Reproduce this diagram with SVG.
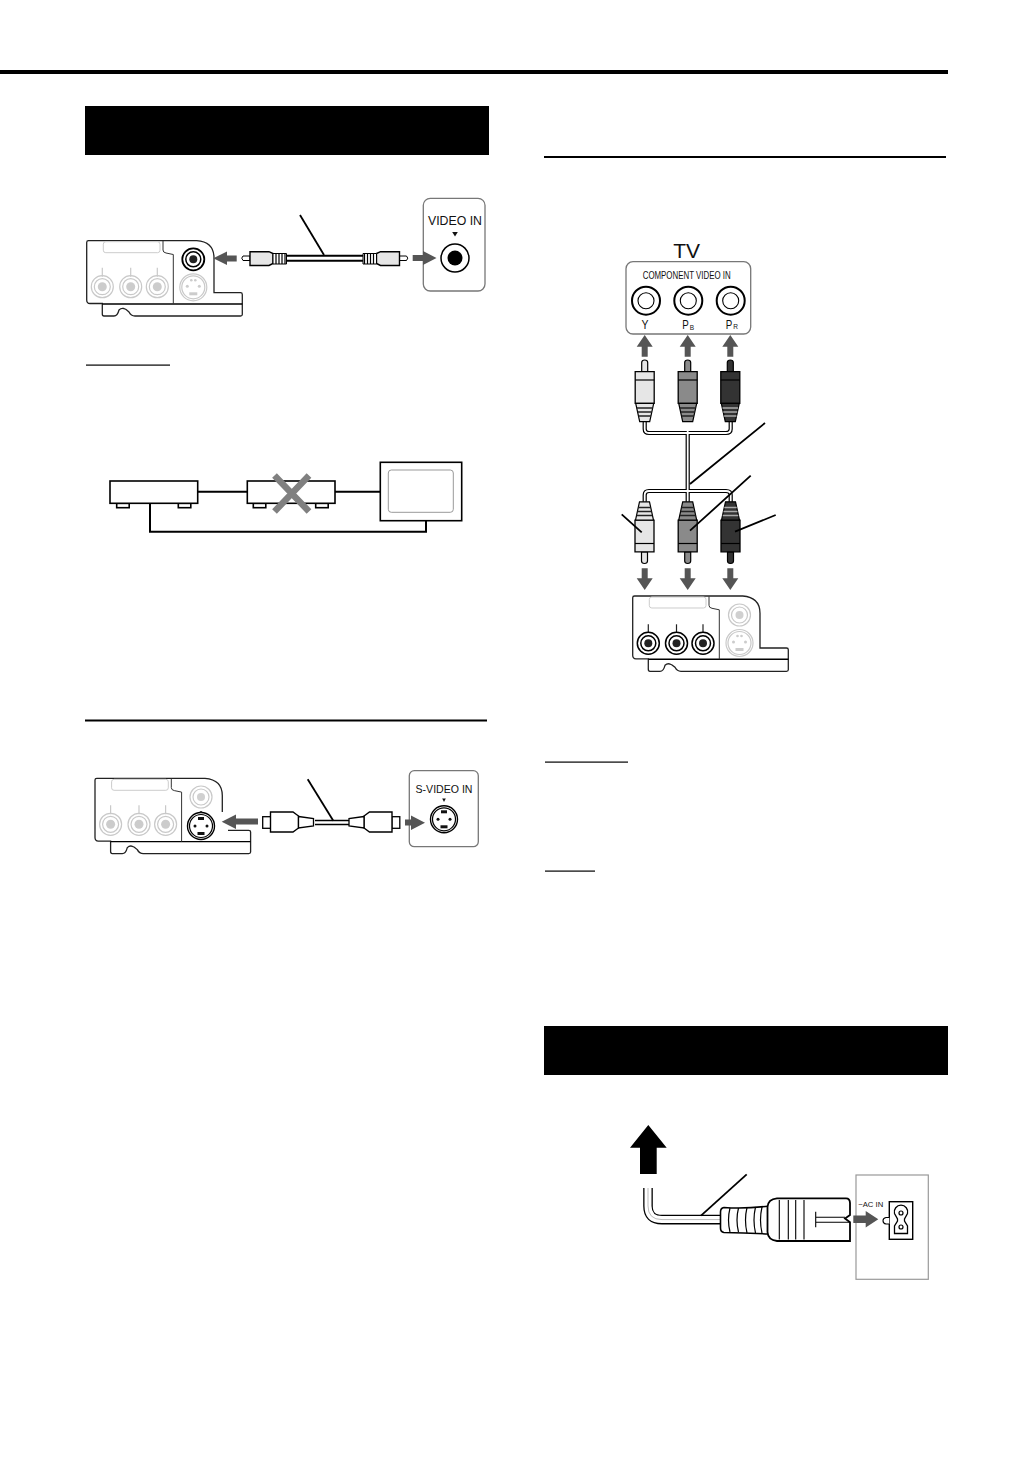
<svg xmlns="http://www.w3.org/2000/svg" xmlns:xlink="http://www.w3.org/1999/xlink" width="1031" height="1457" viewBox="0 0 1031 1457">
<style>
text{font-family:"Liberation Sans",Arial,sans-serif;fill:#111}
.ln{fill:none;stroke:#000;stroke-width:1.4}
.lead{fill:none;stroke:#000;stroke-width:1.8}
.wire{fill:none;stroke:#000;stroke-width:2}
.arr{fill:#555;stroke:none}
.gr{fill:none;stroke:#c9c9c9;stroke-width:1.2}
.bx{fill:#fff;stroke:#000;stroke-width:1.6}
.tvp{fill:#fff;stroke:#777;stroke-width:1.3}
.cblo{fill:none;stroke:#000;stroke-width:4.2;stroke-linejoin:round}
.cbli{fill:none;stroke:#fff;stroke-width:1.8;stroke-linejoin:round}
</style>
<defs>
<g id="panel">
<path d="M88.5 240.7H196.7Q214 242 214 258V292.7H240.5Q242.3 292.7 242.3 294.5V314.5Q242.3 316 240.5 316H135Q131 316 129 312Q123 306 119 310Q117.5 316 114 316H104Q102.3 316 102.3 314V303.5H90Q86.7 303.5 86.7 300V242.5Q86.7 240.7 88.5 240.7Z" fill="#fff" stroke="#222" stroke-width="1.3"/>
<path d="M102.3 304H242.3" class="ln" stroke-width="1"/>
<path d="M163 241V250Q163 252.5 166 253L173.3 254.5V304" fill="none" stroke="#333" stroke-width="1"/>
<rect x="103.3" y="241.7" width="56.7" height="11" rx="2.5" fill="#fff" stroke="#ccc" stroke-width="1"/>
</g>
<g id="jg"><path d="M0 -19V-10" class="gr"/><circle r="11" class="gr"/><circle r="8" class="gr"/><circle r="4.5" fill="#ccc"/></g>
<g id="jb"><path d="M0 -19V-10" fill="none" stroke="#222" stroke-width="1.2"/><circle r="11" fill="#fff" stroke="#000" stroke-width="1.5"/><circle r="7.5" fill="#fff" stroke="#000" stroke-width="1.5"/><circle r="4" fill="#222"/></g>
<g id="jt"><circle r="11" fill="#fff" stroke="#000" stroke-width="1.8"/><circle r="7.500" fill="#fff" stroke="#000" stroke-width="1.5"/><circle r="4" fill="#222"/></g>
<g id="jtg"><circle r="11" class="gr"/><circle r="8" class="gr"/><circle r="4" fill="#d0d0d0"/></g>
<g id="sg"><circle r="13.5" class="gr"/><circle r="11.5" class="gr"/><g fill="#ccc"><circle cx="-6" cy="-1" r="1.5"/><circle cx="6" cy="-1" r="1.5"/><circle cx="-2" cy="-7" r="1.3"/><circle cx="2" cy="-7" r="1.3"/><rect x="-4" y="5" width="8" height="3"/></g></g>
<g id="sb"><circle r="13.5" fill="#fff" stroke="#000" stroke-width="1.4"/><circle r="11.5" fill="#fff" stroke="#000" stroke-width="1.2"/><g fill="#111"><circle cx="-6" cy="0" r="1.5"/><circle cx="6" cy="0" r="1.5"/><rect x="-3" y="-9" width="6" height="3"/><rect x="-3.5" y="6" width="7" height="3"/></g></g>
<path id="au" class="arr" d="M0 0L8 11.7H3V21.7H-3V11.7H-8Z"/>
<g id="plug">
<path d="M-3 11.7V2.5Q-3 0 0 0Q3 0 3 2.5V11.7Z" stroke="#000" stroke-width="1.2"/>
<path d="M-9.5 11.7H9.5V43.3H-9.5Z" stroke="#000" stroke-width="1.3"/>
<path d="M-9.5 20H9.5" stroke="#000" stroke-width="1.2" fill="none"/>
<path d="M-9 43.3H9L5 61.7H-5Z" stroke="#000" stroke-width="1.2"/>
<path d="M-7.8 48H7.8M-7 52H7M-6.2 56H6.2" fill="none" stroke-width="1.4"/>
</g>
</defs>

<g id="page-rules">
<rect x="0" y="70" width="948" height="4" fill="#000"/>
<rect x="85" y="106" width="404" height="49" fill="#000"/>
<rect x="544" y="1026" width="404" height="49" fill="#000"/>
<rect x="544" y="156" width="402" height="2" fill="#000"/>
<rect x="85" y="719.5" width="402" height="2" fill="#000"/>
<rect x="86" y="364.5" width="84" height="1.2" fill="#000"/>
<rect x="545" y="761.5" width="83" height="1.2" fill="#000"/>
<rect x="545" y="870.5" width="50" height="1.2" fill="#000"/>
</g>

<g id="node-video-panel">
<use xlink:href="#panel"/>
<use xlink:href="#jg" x="102.3" y="286.7"/><use xlink:href="#jg" x="130.7" y="286.7"/><use xlink:href="#jg" x="157.3" y="286.7"/>
<use xlink:href="#jt" x="193.3" y="259.3"/><use xlink:href="#sg" x="193.3" y="287.3"/>
</g>
<g id="node-video-in">
<rect x="423.3" y="198.3" width="61.7" height="92.7" rx="7" class="tvp"/>
<text x="455" y="225" font-size="13.4" text-anchor="middle" textLength="54" lengthAdjust="spacingAndGlyphs">VIDEO IN</text>
<path d="M452.2 232H457.8L455 236.5Z" fill="#111"/>
<circle cx="455" cy="258" r="14" fill="#fff" stroke="#000" stroke-width="1.5"/><circle cx="455" cy="258" r="7.5" fill="#000"/>
</g>
<g id="node-video-cable">
<path d="M286 258.3H364" stroke="#000" stroke-width="7" fill="none"/><path d="M286 258.3H364" stroke="#fff" stroke-width="3" fill="none"/>
<g id="rca-left">
<path d="M250 256H243Q240.5 258 243 260.5H250Z" fill="#fff" stroke="#000"/>
<path d="M250 251.7H269L273 253.5V263.5L269 265.5H250Z" fill="#e6e6e6" stroke="#000" stroke-width="1.4"/>
<path d="M273 253.5H286.5V264H273Z" fill="#fff" stroke="#000"/>
<path d="M276 253.5V264M279 253.5V264M282 253.5V264M285 253.5V264" stroke="#000" stroke-width="1.2" fill="none"/>
</g>
<use xlink:href="#rca-left" transform="translate(649.5 0) scale(-1 1)"/>
</g>
<g id="connectors-video">
<path class="lead" d="M300 215L324 255"/>
<path class="arr" d="M213.3 258.3L227 251.5V255.5H236.7V261.5H227V265Z"/>
<path class="arr" d="M436.5 258L423 251V255H412.7V261H423V265Z"/>
</g>

<g id="node-bypass-diagram">
<g id="node-box-1"><rect x="116.7" y="503.3" width="12.5" height="4.4" class="bx"/><rect x="178.3" y="503.3" width="12.5" height="4.4" class="bx"/><rect x="110" y="481" width="87.7" height="22.3" class="bx"/></g>
<g id="node-box-2"><rect x="253.3" y="503.3" width="12.5" height="4.4" class="bx"/><rect x="315.7" y="503.3" width="12.5" height="4.4" class="bx"/><rect x="247.3" y="481" width="87.7" height="22.3" class="bx"/></g>
<g id="node-tv"><rect x="380.3" y="462.3" width="81.4" height="58.4" class="bx"/><rect x="388.3" y="470" width="65" height="42.3" rx="3" fill="#fff" stroke="#999"/></g>
<g id="connectors-bypass">
<path class="wire" d="M197.7 491.7H247.3M335 491.7H380.3M150 503.3V531.7H426V520.7"/>
</g>
<path d="M274.5 475.5L309 511.5M309 475.5L274.5 511.5" stroke="#808080" stroke-width="6.5" fill="none"/>
</g>

<g id="node-svideo-panel">
<use xlink:href="#panel" transform="translate(8.3 537.6)"/>
<use xlink:href="#jg" x="110.6" y="824.3"/><use xlink:href="#jg" x="139" y="824.3"/><use xlink:href="#jg" x="165.6" y="824.3"/>
<use xlink:href="#jtg" x="201" y="797"/><use xlink:href="#sb" x="201" y="826"/>
<path d="M199.5 811H202.5L201 813Z" fill="#333"/>
</g>
<g id="node-svideo-in">
<rect x="409.3" y="770.7" width="69" height="76" rx="5" class="tvp"/>
<text x="444" y="792.7" font-size="11" text-anchor="middle" textLength="57" lengthAdjust="spacingAndGlyphs">S-VIDEO IN</text>
<path d="M442.2 798.5H445.8L444 802Z" fill="#111"/>
<use xlink:href="#sb" x="444" y="819.3"/>
</g>
<g id="node-svideo-cable">
<path d="M315 820.5H349M315 824.5H349" stroke="#000" stroke-width="1.6" fill="none"/>
<g id="sv-left">
<rect x="262.7" y="816.7" width="8" height="11.6" fill="#fff" stroke="#000" stroke-width="1.3"/>
<path d="M270.5 812H293L298.5 816V828L293 832H270.5Z" fill="#fff" stroke="#000" stroke-width="1.4"/>
<path d="M298.5 816.5L313.5 818.5V826L298.5 828Z" fill="#fff" stroke="#000" stroke-width="1.3"/>
</g>
<use xlink:href="#sv-left" transform="translate(662.5 0) scale(-1 1)"/>
</g>
<g id="connectors-svideo">
<path class="lead" d="M307.7 779.3L333.3 820.7"/>
<rect x="218" y="812" width="10" height="20" fill="#fff"/>
<path class="arr" d="M221.7 821.7L236 814.5V818.5H258V824.5H236V829Z"/>
<path class="arr" d="M425 822.7L411 815.5V819.5H405V825.5H411V830Z"/>
</g>

<g id="node-component-in">
<text x="686.7" y="258" font-size="21" text-anchor="middle">TV</text>
<rect x="626" y="261.7" width="124.7" height="72.3" rx="7" class="tvp"/>
<text x="686.7" y="279" font-size="11" text-anchor="middle" textLength="88" lengthAdjust="spacingAndGlyphs">COMPONENT VIDEO IN</text>
<g fill="#fff" stroke="#000" stroke-width="2">
<circle cx="646" cy="300.7" r="14"/><circle cx="688.3" cy="300.7" r="14"/><circle cx="730.7" cy="300.7" r="14"/>
</g>
<g fill="#fff" stroke="#000" stroke-width="1.1">
<circle cx="646" cy="300.7" r="8"/><circle cx="688.3" cy="300.7" r="8"/><circle cx="730.7" cy="300.7" r="8"/>
</g>
<text x="645" y="329" font-size="13.5" text-anchor="middle" textLength="7" lengthAdjust="spacingAndGlyphs">Y</text>
<text x="685.500" y="329" font-size="13.5" text-anchor="middle" textLength="6.500" lengthAdjust="spacingAndGlyphs">P</text><text x="692" y="330" font-size="6.5" text-anchor="middle">B</text>
<text x="729" y="329" font-size="13.5" text-anchor="middle" textLength="6.500" lengthAdjust="spacingAndGlyphs">P</text><text x="735.500" y="328.500" font-size="6.5" text-anchor="middle">R</text>
</g>
<g id="node-component-cable">
<path class="cblo" d="M644.7 421V429Q644.7 433 649 433H726Q730.7 433 730.7 429V421M687.7 433V491M649 491H726Q730.7 491 730.7 495V502M649 491Q644.7 491 644.7 495V502M687.7 491V502"/>
<path class="cbli" d="M644.7 421V429Q644.7 433 649 433H726Q730.7 433 730.7 429V421M687.7 425V502M649 491H726Q730.7 491 730.7 495V502M649 491Q644.7 491 644.7 495V502"/>
<use xlink:href="#plug" x="644.7" y="360" fill="#e6e6e6" stroke="#222"/>
<use xlink:href="#plug" x="687.7" y="360" fill="#8a8a8a" stroke="#222"/>
<use xlink:href="#plug" x="730.3" y="360" fill="#333" stroke="#aaa"/>
<use xlink:href="#plug" transform="translate(644.5 563.5) scale(1 -1)" fill="#e6e6e6" stroke="#222"/>
<use xlink:href="#plug" transform="translate(687.7 563.5) scale(1 -1)" fill="#8a8a8a" stroke="#222"/>
<use xlink:href="#plug" transform="translate(730.5 563.5) scale(1 -1)" fill="#333" stroke="#aaa"/>
</g>
<g id="node-component-panel">
<use xlink:href="#panel" transform="translate(546 355.3)"/>
<use xlink:href="#jb" x="648.3" y="643.3"/><use xlink:href="#jb" x="676.5" y="643.3"/><use xlink:href="#jb" x="703" y="643.3"/>
<use xlink:href="#jtg" x="739.5" y="615"/><use xlink:href="#sg" x="739.5" y="643"/>
</g>
<g id="connectors-component">
<use xlink:href="#au" x="644.7" y="335"/><use xlink:href="#au" x="687.7" y="335"/><use xlink:href="#au" x="730.3" y="335"/>
<use xlink:href="#au" transform="translate(644.7 590) scale(1 -1)"/><use xlink:href="#au" transform="translate(687.7 590) scale(1 -1)"/><use xlink:href="#au" transform="translate(730.3 590) scale(1 -1)"/>
<path class="lead" d="M765 423L690 484M750.7 475.7L690 530.7M775.7 515L735 531.7M621.7 514.3L641.7 532.3"/>
</g>

<g id="node-ac-inlet">
<rect x="856" y="1175" width="72.3" height="104.3" fill="#fff" stroke="#999" stroke-width="1.2"/>
<text x="870.7" y="1206.7" font-size="7" text-anchor="middle" textLength="25" lengthAdjust="spacingAndGlyphs">~AC IN</text>
<rect x="889.3" y="1201.7" width="23.4" height="37.6" fill="#fff" stroke="#000" stroke-width="1.4"/>
<path d="M894.5 1213.5A6.7 6.7 0 1 1 907.5 1213.5L904.5 1219V1221L907.5 1226V1233.5H894.5V1226L897.5 1221V1219Z" fill="#fff" stroke="#000" stroke-width="1.3"/>
<circle cx="901" cy="1213" r="2" fill="#fff" stroke="#000" stroke-width="1.2"/><circle cx="901" cy="1227" r="2" fill="#fff" stroke="#000" stroke-width="1.2"/>
<path d="M889.3 1217.5H886Q883 1218 883 1220.7Q883 1223.5 886 1224H889.3" fill="#fff" stroke="#000" stroke-width="1.1"/>
</g>
<g id="node-ac-cord">
<path d="M648 1188V1206Q648 1219.6 662 1219.6H722" fill="none" stroke="#000" stroke-width="9.6"/>
<path d="M648 1188V1206Q648 1219.6 662 1219.6H722" fill="none" stroke="#fff" stroke-width="7"/>
<path d="M648 1188V1206Q648 1219.6 662 1219.6H722" fill="none" stroke="#bbb" stroke-width="1"/>
<path d="M724 1207.5Q745 1209 769 1206V1234Q745 1233 724 1232.5Q720.5 1232 720.5 1228V1212Q720.5 1208 724 1207.5Z" fill="#fff" stroke="#000" stroke-width="1.6"/>
<path d="M730 1208Q727 1220 730 1232M738.5 1208Q735.5 1220 738.5 1232M747 1207.5Q744 1220 747 1233M755.5 1207Q752.5 1220 755.5 1233M762 1207Q759 1220 762 1233" fill="none" stroke="#000" stroke-width="1.2"/>
<path d="M777 1198.3H846Q850 1198.3 850 1203V1215L845 1218.5L850 1222.3V1241H777Q768 1240 767.5 1232V1207Q768 1199 777 1198.3Z" fill="#fff" stroke="#000" stroke-width="1.8"/>
<path d="M779.3 1200V1239.5M788.3 1200V1239.5M795.7 1200V1239.5M804 1200V1239.5M815.7 1211.7V1227.3M815.7 1217.3H845M815.7 1222.3H850" fill="none" stroke="#000" stroke-width="1.1"/>
</g>
<g id="connectors-ac">
<path class="lead" d="M746.7 1174.3L701 1215.7"/>
<path d="M648.3 1125L666.7 1147.7H656.7V1174H640V1147.7H630Z" fill="#000"/>
<path class="arr" d="M878.3 1219.3L865.7 1227.5V1223H853.3V1215.5H865.7V1211Z"/>
</g>
</svg>
